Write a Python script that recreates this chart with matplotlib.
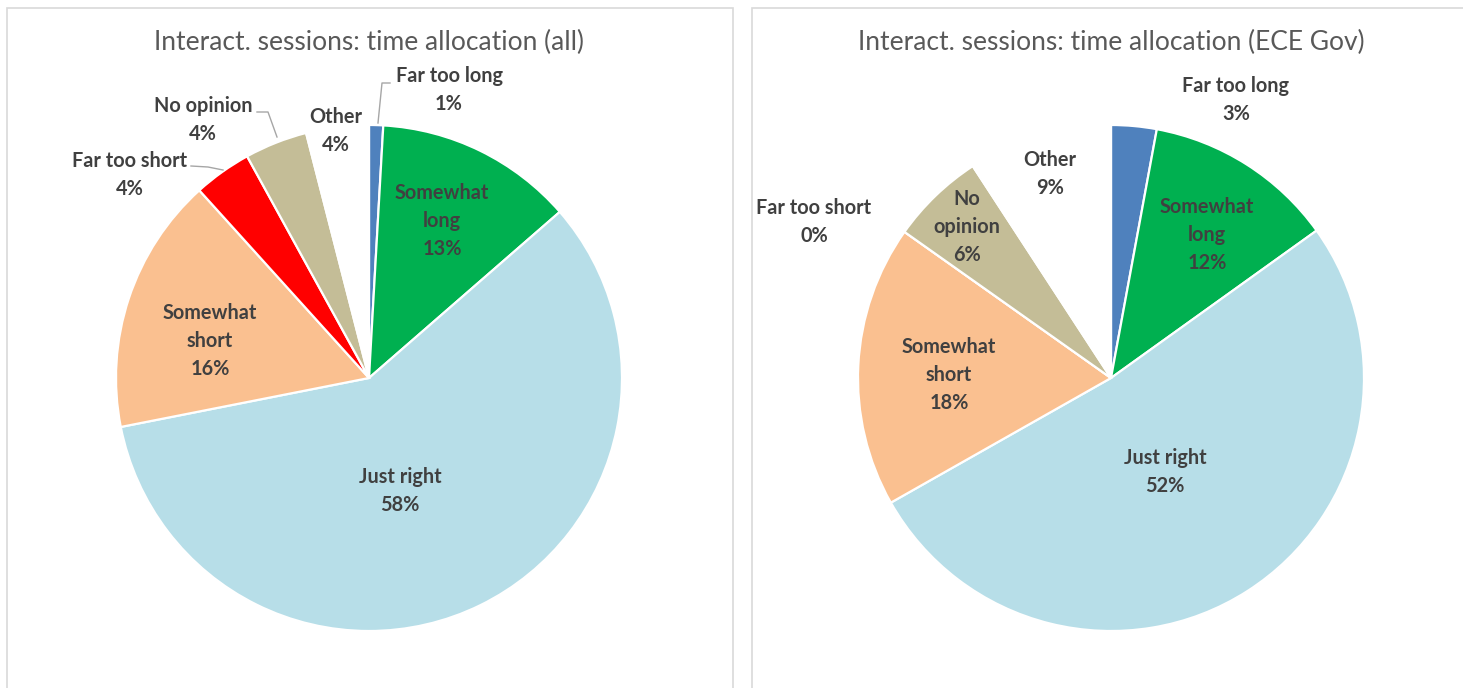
import matplotlib.pyplot as plt
from matplotlib.patches import Rectangle
from matplotlib import font_manager

# ----------------------------------------------------------
# Data
# ----------------------------------------------------------
categories = ["Far too long", "Somewhat long", "Just right", "Somewhat short",
              "Far too short", "No opinion", "Other"]
share_all = [0.9, 12.7, 58.3, 16.4, 3.7, 4.0, 4.0]
share_ece = [2.9, 12.2, 51.7, 18.0, 0.0, 6.0, 9.2]
titles = ["Interact. sessions: time allocation (all)",
          "Interact. sessions: time allocation (ECE Gov)"]
names_all = ["Far too long", "Somewhat\nlong", "Just right", "Somewhat\nshort",
             "Far too short", "No opinion", "Other"]
names_ece = ["Far too long", "Somewhat\nlong", "Just right", "Somewhat\nshort",
             "Far too short", "No\nopinion", "Other"]

colors = ["#4F81BD", "#00B050", "#B7DEE8", "#FAC090", "#FF0000", "#C4BD97", "white"]

# ----------------------------------------------------------
# Layout (pixels of a 1463x688 canvas)
# ----------------------------------------------------------
W, H = 1463, 688
R = 253
fams = [f for f in ["Liberation Sans Narrow", "Lato", "DejaVu Sans"]
        if any(f == x.name for x in font_manager.fontManager.ttflist)]
plt.rcParams["font.family"] = fams

panels = [
    dict(box=(7, 733), cx=369, cy=378, values=share_all, names=names_all,
         label_px=[(449, 90), (442, 221), (400, 491), (210, 341),
                   (130, 175), (203, 120), (336, 131)],
         leaders=[[(378, 123), (382, 83), (390, 83)],
                  None, None, None,
                  [(191, 166), (208, 167), (223, 170)],
                  [(257, 112), (268, 112), (277, 137)],
                  None]),
    dict(box=(752, 1475), cx=1111, cy=378, values=share_ece, names=names_ece,
         label_px=[(1236, 100), (1207, 235), (1165, 472), (949, 375),
                   (814, 222), (967, 227), (1050, 174)],
         leaders=[None] * 7),
]

fig = plt.figure(figsize=(W / 100, H / 100), dpi=100)

for p, title in zip(panels, titles):
    x0, x1 = p["box"]
    # panel frame
    fig.patches.append(Rectangle((x0 / W, -0.01), (x1 - x0) / W, (H - 8) / H + 0.01,
                                 transform=fig.transFigure, fill=False,
                                 edgecolor="#D9D9D9", linewidth=1.2))
    ax = fig.add_axes([x0 / W, 0, (x1 - x0) / W, (H - 8) / H])
    cx, cy = p["cx"], p["cy"]

    ax.pie(p["values"], colors=colors, startangle=90, counterclock=False,
           radius=1, wedgeprops=dict(edgecolor="white", linewidth=1.6))
    ax.set_xlim((x0 - cx) / R, (x1 - cx) / R)
    ax.set_ylim((cy - H) / R, (cy - 8) / R)
    ax.set_aspect("auto")
    ax.axis("off")

    for name, v, (lx, ly), lead in zip(p["names"], p["values"],
                                        p["label_px"], p["leaders"]):
        ax.text((lx - cx) / R, (cy - ly) / R, f"{name}\n{v:.0f}%",
                ha="center", va="center", fontsize=14.3, fontweight="bold",
                color="#404040", linespacing=1.5)
        if lead:
            xs = [(q[0] - cx) / R for q in lead]
            ys = [(cy - q[1]) / R for q in lead]
            ax.plot(xs, ys, color="#A6A6A6", linewidth=1)

    ax.text(0, (cy - 42) / R, title, ha="center", va="center",
            fontsize=19, color="#595959")

plt.savefig("out.png", dpi=100)
plt.close()
